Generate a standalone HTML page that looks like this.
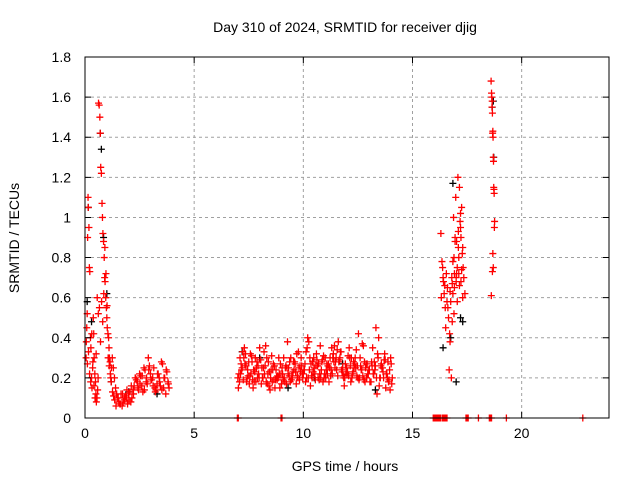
<!DOCTYPE html>
<html><head><meta charset="utf-8"><style>
body{margin:0;background:#fff}
svg{display:block;font-family:"Liberation Sans",sans-serif}
</style></head><body>
<svg id="chart" width="640" height="480" viewBox="0 0 640 480">
<rect width="640" height="480" fill="#fff"/>
<text x="345" y="32" font-size="14" text-anchor="middle">Day 310 of 2024, SRMTID for receiver djig</text>
<g id="grid"></g>
<g id="black-series"></g>
<g id="red-series"></g>
<rect x="85" y="57" width="524" height="361" fill="none" stroke="#000" stroke-width="1"/>
<g id="axes"></g>
<text x="345" y="471" font-size="14" text-anchor="middle">GPS time / hours</text>
<text transform="translate(19,238) rotate(-90)" font-size="14" text-anchor="middle">SRMTID / TECUs</text>
</svg>
<script>
const xTicks=[0,5,10,15,20];
const yTicks=[0,0.2,0.4,0.6,0.8,1,1.2,1.4,1.6,1.8];
const yTickLabels=["0","0.2","0.4","0.6","0.8","1","1.2","1.4","1.6","1.8"];
// red series, [hour, TECU] pairs per segment
const earlyPoints=[[0.05,0.3],[0.08,0.45],[0.1,0.52],[0.12,0.9],[0.14,1.1],[0.15,1.05],[0.18,0.95],[0.2,0.75],[0.22,0.73],[0.25,0.4],[0.27,0.35],[0.3,0.2],[0.32,0.15],[0.35,0.25],[0.38,0.5],[0.4,0.42],[0.42,0.3],[0.45,0.22],[0.48,0.18],[0.5,0.12],[0.52,0.08],[0.55,0.1],[0.58,0.14],[0.6,0.2],
[0.62,1.57],[0.65,1.56],[0.68,1.5],[0.7,1.42],[0.72,1.25],[0.75,1.22],[0.78,1.07],[0.8,1.0],[0.82,0.92],[0.85,0.88],[0.88,0.8],[0.9,0.7],[0.92,0.68],[0.95,0.6],[0.98,0.55],[1.0,0.5],[1.02,0.45],[1.05,0.42],[1.08,0.4],[1.1,0.35],[1.12,0.3],[1.15,0.28],[1.18,0.2],[1.2,0.18],
[0.06,0.38],[0.11,0.27],[0.16,0.33],[0.21,0.22],[0.26,0.18],[0.31,0.42],[0.36,0.28],[0.41,0.16],[0.46,0.1],[0.51,0.32],[0.56,0.6],[0.61,0.52],[0.66,0.55],[0.71,0.38],[0.76,0.58],[0.81,0.48],[0.86,0.62],[0.91,0.85],[0.96,0.72],[1.01,0.56],[1.06,0.3],[1.11,0.26],[1.16,0.22],[1.21,0.25],[1.26,0.13],[1.31,0.11],[1.36,0.09]];
const lowPoints=[[1.25,0.3],[1.3,0.25],[1.35,0.2],[1.4,0.15],[1.45,0.12],[1.5,0.1],[1.55,0.08],[1.6,0.07],[1.7,0.06],[1.8,0.09],[1.9,0.1],[2.0,0.12],[2.1,0.08],[2.2,0.14],[2.3,0.2],[2.4,0.18],[2.5,0.22],[2.6,0.16],[2.7,0.25],[2.8,0.18],[2.9,0.3],[3.0,0.22],[3.1,0.2],[3.2,0.15],[3.3,0.17],[3.4,0.2],[3.5,0.28],[3.6,0.15],[3.7,0.12],[3.8,0.18],
[1.65,0.12],[1.75,0.08],[1.85,0.11],[1.95,0.07],[2.05,0.13],[2.15,0.1],[2.25,0.16],[2.35,0.19],[2.45,0.14],[2.55,0.21],[2.65,0.13],[2.75,0.24],[2.85,0.17],[2.95,0.26],[3.05,0.19],[3.15,0.25],[3.25,0.14],[3.35,0.22],[3.45,0.16],[3.55,0.27],[3.65,0.2],[3.75,0.23],[3.85,0.15],
[1.42,0.06],[1.52,0.1],[1.62,0.07],[1.72,0.12],[1.82,0.1],[1.92,0.14],[2.02,0.09],[2.12,0.16],[2.22,0.12],[2.32,0.2],[2.42,0.15],[2.52,0.17],[2.62,0.21],[2.72,0.14],[2.82,0.2],[2.92,0.24],[3.02,0.19],[3.12,0.16],[3.22,0.13],[3.32,0.22],[3.42,0.18],[3.52,0.14],[3.62,0.2],[3.72,0.24],[3.82,0.17]];
const midTimes=[7.0,7.1,7.2,7.3,7.4,7.5,7.6,7.7,7.8,7.9,8.0,8.1,8.2,8.3,8.4,8.5,8.6,8.7,8.8,8.9,9.0,9.1,9.2,9.3,9.4,9.5,9.6,9.7,9.8,9.9,10.0,10.1,10.2,10.3,10.4,10.5,10.6,10.7,10.8,10.9,11.0,11.1,11.2,11.3,11.4,11.5,11.6,11.7,11.8,11.9,12.0,12.1,12.2,12.3,12.4,12.5,12.6,12.7,12.8,12.9,13.0,13.1,13.2,13.3,13.4,13.5,13.6,13.7,13.8,13.9,14.0];
const midValuesA=[0.2,0.3,0.25,0.35,0.18,0.28,0.22,0.15,0.3,0.2,0.35,0.25,0.33,0.18,0.28,0.2,0.24,0.15,0.19,0.22,0.17,0.3,0.26,0.22,0.18,0.2,0.28,0.32,0.25,0.3,0.22,0.18,0.4,0.3,0.2,0.25,0.32,0.27,0.2,0.18,0.3,0.22,0.25,0.35,0.28,0.3,0.38,0.33,0.25,0.2,0.22,0.35,0.3,0.28,0.25,0.2,0.3,0.37,0.28,0.2,0.24,0.18,0.22,0.26,0.32,0.2,0.25,0.29,0.22,0.18,0.3];
const midValuesB=[0.15,0.22,0.33,0.27,0.2,0.17,0.31,0.24,0.18,0.26,0.29,0.2,0.22,0.3,0.16,0.24,0.27,0.19,0.21,0.15,0.25,0.2,0.17,0.25,0.3,0.23,0.27,0.21,0.19,0.26,0.24,0.33,0.2,0.16,0.28,0.22,0.29,0.19,0.24,0.31,0.2,0.26,0.3,0.22,0.36,0.24,0.28,0.33,0.21,0.27,0.23,0.3,0.2,0.25,0.34,0.42,0.26,0.21,0.18,0.27,0.24,0.28,0.22,0.45,0.3,0.2,0.25,0.32,0.22,0.19,0.27];
const midValuesC=[0.22,0.27,0.19,0.32,0.24,0.21,0.28,0.18,0.25,0.22,0.29,0.2,0.26,0.17,0.23,0.31,0.19,0.24,0.2,0.27,0.22,0.18,0.25,0.21,0.19,0.28,0.23,0.2,0.26,0.22,0.24,0.2,0.38,0.27,0.23,0.19,0.26,0.22,0.28,0.2,0.24,0.27,0.21,0.3,0.25,0.34,0.29,0.24,0.2,0.23,0.31,0.26,0.22,0.27,0.21,0.19,0.24,0.36,0.25,0.22,0.18,0.26,0.28,0.2,0.4,0.26,0.23,0.29,0.2,0.24,0.17];
const midValuesD=[0.18,0.24,0.3,0.26,0.21,0.32,0.19,0.23,0.28,0.2,0.17,0.25,0.36,0.22,0.14,0.18,0.26,0.2,0.3,0.22,0.19,0.25,0.38,0.28,0.21,0.24,0.17,0.33,0.23,0.2,0.27,0.35,0.24,0.21,0.3,0.26,0.2,0.36,0.29,0.22,0.27,0.18,0.24,0.32,0.28,0.21,0.3,0.23,0.16,0.25,0.21,0.18,0.23,0.3,0.26,0.2,0.24,0.19,0.27,0.22,0.18,0.35,0.24,0.12,0.16,0.27,0.2,0.15,0.28,0.14,0.2];
const latePoints=[[16.3,0.92],[16.35,0.78],[16.4,0.7],[16.45,0.62],[16.5,0.55],[16.55,0.72],[16.6,0.65],[16.65,0.5],[16.7,0.42],[16.75,0.58],[16.8,0.7],[16.85,0.62],[16.9,0.8],[16.95,0.9],[17.0,0.68],[17.05,0.75],[17.1,0.85],[17.15,1.15],[17.2,0.95],[17.25,1.05],[17.3,0.85],[17.35,0.7],[17.4,0.62],
[16.32,0.6],[16.42,0.68],[16.52,0.45],[16.62,0.55],[16.72,0.38],[16.82,0.48],[16.92,0.65],[17.02,0.72],[17.12,0.8],[17.22,0.9],[17.32,0.75],[16.88,1.0],[16.98,1.1],[17.08,1.2],[17.18,0.98],[17.28,0.82],[16.68,0.24],[16.78,0.2],
[16.85,0.78],[16.95,0.88],[17.05,0.58],[17.15,0.66],[17.25,0.74],[17.1,0.93],[17.2,1.02],[17.3,0.6],[17.0,0.7],[16.9,0.52],[16.38,0.75],[16.48,0.66],[16.58,0.58],[16.72,0.63],[16.82,0.67],[16.92,0.72],[17.02,0.88],[17.12,0.72],[17.22,0.68]];
const peakPoints=[[18.6,1.68],[18.62,1.62],[18.64,1.55],[18.66,1.52],[18.68,1.43],[18.7,1.3],[18.72,1.15],[18.74,1.12],[18.76,0.98],[18.63,1.6],[18.65,1.58],[18.67,1.42],[18.69,1.4],[18.71,1.28],[18.73,1.14],[18.61,0.61],[18.75,0.95],[18.7,0.75],[18.66,0.73],[18.68,0.82]];
const zeroTimes=[6.98,7.02,8.98,9.02,15.95,16.0,16.05,16.1,16.15,16.2,16.25,16.3,16.38,16.42,16.48,16.52,16.58,17.45,17.5,17.55,18.02,18.52,18.58,18.62,19.3,22.8];
// black series (mostly hidden below red)
const blackPoints=[[0.1,0.58],[0.15,1.05],[0.3,0.48],[0.7,1.42],[0.75,1.34],[0.85,0.9],[1.0,0.62],[1.2,0.18],[2.0,0.13],[3.3,0.12],[7.2,0.33],[8.0,0.3],[9.3,0.15],[10.5,0.2],[11.8,0.27],[13.3,0.14],[16.4,0.35],[16.75,0.4],[16.85,1.17],[17.0,0.18],[17.2,0.5],[17.3,0.48],[18.65,1.55],[18.7,1.58],[18.72,1.3]];
const NS='http://www.w3.org/2000/svg';
const X0=85,X1=609,Y0=418,Y1=57;
function xs(t){return X0+(t/24)*(X1-X0);}
function ys(v){return Y0-(v/1.8)*(Y0-Y1);}
function mk(tag,attrs,parent){const e=document.createElementNS(NS,tag);for(const k in attrs)e.setAttribute(k,attrs[k]);parent.appendChild(e);return e;}
const grid=document.getElementById('grid'),axes=document.getElementById('axes');
xTicks.forEach(t=>{
  const x=xs(t);
  if(t>0){const g=mk('line',{x1:x,x2:x,y1:Y1,y2:Y0,stroke:'#a0a0a0','stroke-dasharray':'3,3'},grid);
  
  }
  const tk=mk('path',{d:`M${x},${Y0}v-6M${x},${Y1}v6`,stroke:'#000'},axes);
  
  
  const l=mk('text',{x:x,y:Y0+20,'font-size':14,'text-anchor':'middle'},axes);l.textContent=t;
  
  
});
yTicks.forEach((v,i)=>{
  const y=ys(v);
  if(v>0&&v<1.8){const g=mk('line',{x1:X0,x2:X1,y1:y,y2:y,stroke:'#a0a0a0','stroke-dasharray':'3,3'},grid);
  
  }
  const tk=mk('path',{d:`M${X0},${y}h6M${X1},${y}h-6`,stroke:'#000'},axes);
  
  
  const l=mk('text',{x:X0-14,y:y+5,'font-size':14,'text-anchor':'end'},axes);l.textContent=yTickLabels[i];
  
  
});
function plus(pts,color,gid,name){
  const g=document.getElementById(gid);let d='';
  pts.forEach(p=>{const x=xs(p[0]),y=ys(p[1]);d+=`M${x-3.5},${y}h7M${x},${y-3.5}v7`;});
  const p=mk('path',{d:d,stroke:color,'stroke-width':1.3,fill:'none'},g);
  
  
}
const midPoints=[];
[midValuesA,midValuesB,midValuesC,midValuesD].forEach((vals,k)=>{
  midTimes.forEach((t,i)=>{if(i<vals.length)midPoints.push([t+k*0.025,vals[i]]);});
});
const zeroPoints=zeroTimes.map(t=>[t,0]);
plus(blackPoints,'#000','black-series','black-markers');
plus(earlyPoints,'#ff0000','red-series','early-markers');
plus(lowPoints,'#ff0000','red-series','low-markers');
plus(midPoints,'#ff0000','red-series','mid-markers');
plus(latePoints,'#ff0000','red-series','late-markers');
plus(peakPoints,'#ff0000','red-series','peak-markers');
plus(zeroPoints,'#ff0000','red-series','zero-markers');
</script>
</body></html>
